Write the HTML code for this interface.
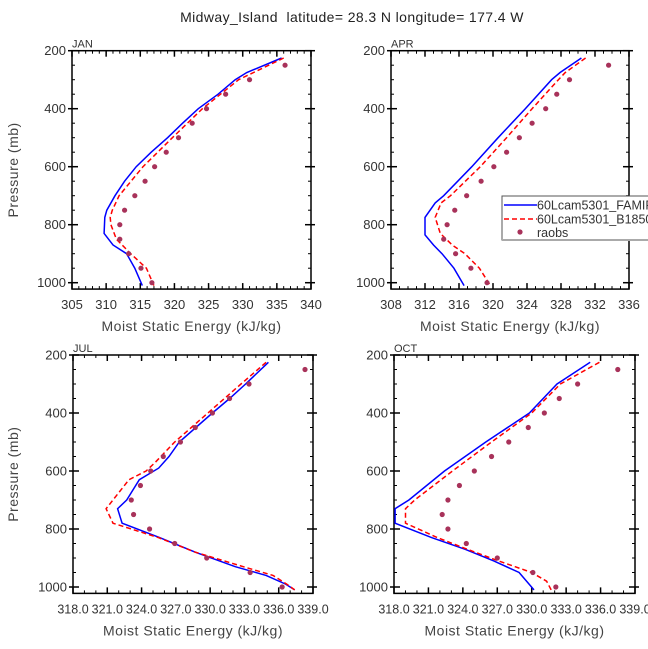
<!DOCTYPE html>
<html><head><meta charset="utf-8"><style>
body{margin:0;background:#fff}
svg{display:block;font-family:"Liberation Sans",sans-serif}
</style></head><body>
<svg id="chart" width="648" height="649" viewBox="0 0 648 649">
<text x="352" y="22" text-anchor="middle" font-size="14" fill="#222" style="white-space:pre" letter-spacing="0.4">Midway_Island  latitude= 28.3 N longitude= 177.4 W</text>
</svg>
<script>
// ---- data ----
const janBlueP=[225,275,300,350,400,450,500,550,600,650,700,750,775,830,870,900,950,1010];
const janBlueV=[335.7,330.6,328.9,326.4,323.5,321.2,319.0,316.6,314.4,312.7,311.3,310.1,309.8,309.7,311.0,313.0,314.2,315.3];
const janRedP=[225,300,400,500,600,700,750,775,800,850,900,950,1010];
const janRedV=[336.0,329.4,324.1,319.7,315.4,311.9,310.9,310.6,310.7,311.5,313.6,315.9,317.0];
const obsP=[250,300,350,400,450,500,550,600,650,700,750,800,850,900,950,1000];
const janObs=[336.2,331.0,327.5,324.7,322.6,320.6,318.8,317.1,315.7,314.2,312.7,312.0,312.0,313.3,315.1,316.7];

const aprBlueP=[225,275,300,400,500,600,700,725,775,835,870,900,950,1010];
const aprBlueV=[330.4,327.9,326.9,323.8,320.6,317.5,314.2,313.2,312.0,312.0,313.0,314.0,315.4,316.6];
const aprRedP=[225,275,300,400,500,600,700,725,775,830,870,900,950,1010];
const aprRedV=[330.9,328.5,327.7,324.6,321.6,318.5,315.0,313.9,313.2,313.8,315.2,316.7,318.4,319.7];
const aprObs=[333.6,329.0,327.5,326.2,324.6,323.1,321.6,320.1,318.6,316.9,315.5,314.6,314.2,315.6,317.4,319.3];

const julBlueP=[225,300,350,400,500,550,590,630,700,730,780,830,880,930,960,990,1010];
const julBlueV=[335.1,333.1,331.7,330.2,327.3,326.4,325.5,323.8,322.7,321.9,322.3,325.6,328.7,332.2,334.9,336.6,337.4];
const julRedP=[225,300,400,500,570,600,630,730,780,830,880,930,960,990,1010];
const julRedV=[334.9,332.7,329.8,326.9,325.2,324.4,322.9,320.9,321.5,325.5,328.7,332.9,335.5,336.7,337.4];
const julObs=[338.3,333.4,331.7,330.2,328.7,327.4,325.9,324.8,323.9,323.1,323.3,324.7,326.9,329.7,333.5,336.3];

const octBlueP=[225,300,400,500,600,700,730,780,830,870,910,950,1010];
const octBlueV=[335.1,332.2,329.8,326.0,322.4,319.3,318.1,318.1,321.3,324.2,326.7,328.9,330.2];
const octRedP=[225,300,400,500,600,700,730,780,830,870,910,950,980,1010];
const octRedV=[335.9,332.5,330.0,326.5,323.1,319.8,319.0,319.0,321.8,324.4,327.1,330.0,331.3,331.7];
const octObs=[337.5,334.0,332.4,331.1,329.7,328.0,326.5,325.0,323.7,322.7,322.2,322.7,324.3,327.0,330.1,332.1];

const janTicks=[305,310,315,320,325,330,335,340];
const aprTicks=[308,312,316,320,324,328,332,336];
const julTicks=[318,321,324,327,330,333,336,339];
const pTicks=[200,400,600,800,1000];

const NS="http://www.w3.org/2000/svg";
const svg=document.getElementById('chart');
function mk(tag,attrs,parent){const e=document.createElementNS(NS,tag);for(const k in attrs)e.setAttribute(k,attrs[k]);(parent||svg).appendChild(e);return e;}

function panel(cfg){
  const g=mk('g',{});
  
  
  const x0=cfg.x0,x1=cfg.x1,yT=cfg.yT,ppm=0.29;
  const xs=v=>x0+(v-cfg.xmin)/(cfg.xmax-cfg.xmin)*(x1-x0);
  const ys=p=>yT+(p-200)*ppm;
  const yB=ys(1022);
  const clip='clip-'+cfg.name;
  const cp=mk('clipPath',{id:clip},g);mk('rect',{x:x0,y:yT,width:x1-x0,height:yB-yT},cp);
  for(let v=cfg.xmin;v<=cfg.xmax+1e-6;v+=cfg.minor){
    const x=xs(v);
    mk('line',{x1:x,x2:x,y1:yB,y2:yB-3,stroke:'#000','stroke-width':1},g);
    mk('line',{x1:x,x2:x,y1:yT,y2:yT+3,stroke:'#000','stroke-width':1},g);
  }
  for(let p=200;p<=1000;p+=50){
    const y=ys(p);
    mk('line',{x1:x0,x2:x0+3,y1:y,y2:y,stroke:'#000','stroke-width':1},g);
    mk('line',{x1:x1,x2:x1-3,y1:y,y2:y,stroke:'#000','stroke-width':1},g);
  }
  cfg.ticks.forEach(v=>{
    const x=xs(v);
    mk('line',{x1:x,x2:x,y1:yB,y2:yB-6,stroke:'#000','stroke-width':1.5},g);
    mk('line',{x1:x,x2:x,y1:yT,y2:yT+6,stroke:'#000','stroke-width':1.5},g);
    const t=mk('text',{x:x,y:yB+20,'text-anchor':'middle','font-size':cfg.tickFs,fill:'#333'},g);
    t.textContent=cfg.fmt(v);
    
    
  });
  pTicks.forEach(p=>{
    const y=ys(p);
    mk('line',{x1:x0-4,x2:x0+6,y1:y,y2:y,stroke:'#000','stroke-width':1.5},g);
    mk('line',{x1:x1+4,x2:x1-6,y1:y,y2:y,stroke:'#000','stroke-width':1.5},g);
    const t=mk('text',{x:x0-6,y:y+4.5,'text-anchor':'end','font-size':13,fill:'#333'},g);
    t.textContent=p;
    
    
  });
  mk('rect',{x:x0,y:yT,width:x1-x0,height:yB-yT,fill:'none',stroke:'#000','stroke-width':1.5},g);
  const lab=mk('text',{x:x0,y:yT-3,'font-size':11,fill:'#333'},g);
  lab.textContent=cfg.label;
  
  
  const xt=mk('text',{x:(x0+x1)/2,y:yB+42,'text-anchor':'middle','font-size':14,fill:'#444','letter-spacing':0.5},g);
  xt.textContent='Moist Static Energy (kJ/kg)';
  
  
  if(cfg.ytitle){
    const yt=mk('text',{x:0,y:0,'text-anchor':'middle','font-size':14,fill:'#444','letter-spacing':0.5,transform:`translate(18,${(yT+yB)/2}) rotate(-90)`},g);
    yt.textContent='Pressure (mb)';
    
    
  }
  const pts=(P,V)=>P.map((p,i)=>xs(V[i]).toFixed(1)+','+ys(p).toFixed(1)).join(' ');
  const bl=mk('polyline',{points:pts(cfg.bP,cfg.bV),fill:'none',stroke:'#0000ff','stroke-width':1.5,'clip-path':`url(#${clip})`},g);
  
  
  const rl=mk('polyline',{points:pts(cfg.rP,cfg.rV),fill:'none',stroke:'#ff0000','stroke-width':1.5,'stroke-dasharray':'5,3','clip-path':`url(#${clip})`},g);
  
  
  obsP.forEach((p,i)=>{
    const c=mk('circle',{cx:xs(cfg.obs[i]),cy:ys(p),r:2.6,fill:'#a8325a'},g);
    
    
  });
}
const f0=v=>String(v), f1=v=>v.toFixed(1);
panel({name:'jan',label:'JAN',x0:72,x1:311,yT:50.7,xmin:305,xmax:340,minor:1,ticks:janTicks,fmt:f0,tickFs:13,ytitle:true,bP:janBlueP,bV:janBlueV,rP:janRedP,rV:janRedV,obs:janObs});
panel({name:'apr',label:'APR',x0:391,x1:629,yT:50.7,xmin:308,xmax:336,minor:1,ticks:aprTicks,fmt:f0,tickFs:13,ytitle:false,bP:aprBlueP,bV:aprBlueV,rP:aprRedP,rV:aprRedV,obs:aprObs});
panel({name:'jul',label:'JUL',x0:73,x1:313,yT:355,xmin:318,xmax:339,minor:1,ticks:julTicks,fmt:f1,tickFs:12.5,ytitle:true,bP:julBlueP,bV:julBlueV,rP:julRedP,rV:julRedV,obs:julObs});
panel({name:'oct',label:'OCT',x0:394,x1:635,yT:355,xmin:318,xmax:339,minor:1,ticks:julTicks,fmt:f1,tickFs:12.5,ytitle:false,bP:octBlueP,bV:octBlueV,rP:octRedP,rV:octRedV,obs:octObs});

// legend
const lg=mk('g',{});


mk('rect',{x:502,y:196,width:150,height:44,fill:'#fff',stroke:'#555','stroke-width':1},lg);
mk('line',{x1:502,x2:648,y1:240,y2:240,stroke:'#aaa','stroke-width':2},lg);
mk('line',{x1:504,x2:537,y1:205,y2:205,stroke:'#0000ff','stroke-width':1.5},lg);
mk('line',{x1:504,x2:537,y1:219,y2:219,stroke:'#ff0000','stroke-width':1.5,'stroke-dasharray':'5,3'},lg);
mk('circle',{cx:520,cy:232,r:2.6,fill:'#a8325a'},lg);
[['60Lcam5301_FAMIP',209.5],['60Lcam5301_B1850',223.5],['raobs',237]].forEach(([s,y])=>{
  const t=mk('text',{x:537,y:y,'font-size':12.5,fill:'#333'},lg);
  t.textContent=s;
  
  
});
</script>
</body></html>
